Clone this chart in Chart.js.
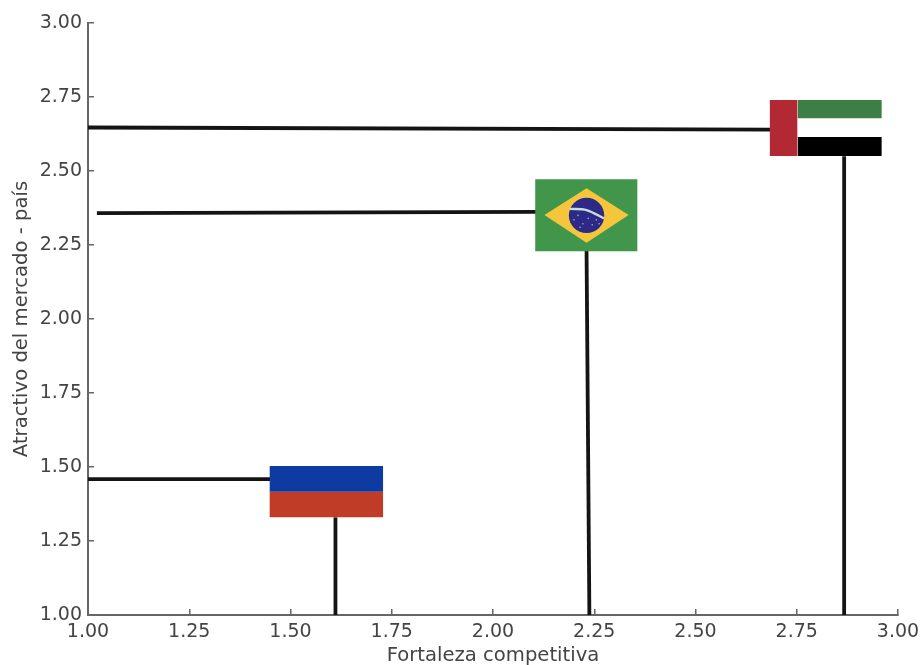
<!DOCTYPE html>
<html lang="es">
<head>
<meta charset="utf-8">
<title>Atractivo del mercado</title>
<script src="https://cdn.jsdelivr.net/npm/chart.js@4"></script>
<style>
  html, body { margin: 0; padding: 0; background: #ffffff; }
  #wrap { width: 922px; height: 665px; position: relative; }
</style>
</head>
<body>
<div id="wrap"><canvas id="chart"></canvas></div>
<script>
const xTitle = 'Fortaleza competitiva';
const yTitle = 'Atractivo del mercado - país';

// guide lines, in axis units
const russiaH = [{x: 1.00, y: 1.459}, {x: 1.45, y: 1.459}];
const russiaV = [{x: 1.611, y: 1.00}, {x: 1.611, y: 1.33}];
const brazilH = [{x: 1.022, y: 2.358}, {x: 2.11, y: 2.362}];
const brazilV = [{x: 2.238, y: 1.00}, {x: 2.231, y: 2.23}];
const uaeH = [{x: 1.00, y: 2.647}, {x: 2.69, y: 2.640}];
const uaeV = [{x: 2.867, y: 1.00}, {x: 2.867, y: 2.55}];

// flag pieces: [xStart, xEnd, yTop, yBottom]
const russiaBlue = [1.448, 1.729, 1.503, 1.416];
const russiaRed = [1.448, 1.729, 1.416, 1.330];
const uaeRed = [2.683, 2.752, 2.740, 2.551];
const uaeGreen = [2.752, 2.960, 2.740, 2.678];
const uaeBlack = [2.752, 2.960, 2.615, 2.551];
const brazilGreen = [2.104, 2.357, 2.472, 2.229];

// brazil flag details
const diamondMiddle = 2.3514;
const diamondTop = [{x: 2.127, y: diamondMiddle}, {x: 2.231, y: 2.442}, {x: 2.335, y: diamondMiddle}];
const diamondBottom = [{x: 2.127, y: diamondMiddle}, {x: 2.231, y: 2.258}, {x: 2.335, y: diamondMiddle}];
const globe = [{x: 2.231, y: 2.350}];
const band = [{x: 2.189, y: 2.372}, {x: 2.231, y: 2.368}, {x: 2.274, y: 2.340}];
const stars = [
  {x: 2.200, y: 2.335}, {x: 2.210, y: 2.350}, {x: 2.222, y: 2.322}, {x: 2.235, y: 2.340},
  {x: 2.245, y: 2.318}, {x: 2.255, y: 2.335}, {x: 2.262, y: 2.322}, {x: 2.215, y: 2.310}
];

function line(data) {
  return {
    data: data, showLine: true, pointRadius: 0,
    borderColor: '#141414', borderWidth: 3.8, order: 10
  };
}

function block(piece, color) {
  return {
    data: [{x: piece[0], y: piece[2]}, {x: piece[1], y: piece[2]}],
    showLine: true, pointRadius: 0, borderWidth: 0,
    backgroundColor: color, fill: {value: piece[3]}, order: 5
  };
}

function diamond(data) {
  return {
    data: data, showLine: true, pointRadius: 0, borderWidth: 0,
    backgroundColor: '#f5c63c', fill: {value: diamondMiddle}, order: 4
  };
}

const datasets = [
  line(russiaH), line(russiaV), line(brazilH), line(brazilV), line(uaeH), line(uaeV),
  block(russiaBlue, '#0e3ba2'),
  block(russiaRed, '#c13c27'),
  block(uaeRed, '#b22833'),
  block(uaeGreen, '#3b7f45'),
  block(uaeBlack, '#000000'),
  block(brazilGreen, '#41964b'),
  diamond(diamondTop),
  diamond(diamondBottom),
  {data: globe, pointRadius: 17.7, pointBackgroundColor: '#2c2a86', pointBorderWidth: 0, order: 3},
  {data: band, showLine: true, tension: 0.3, pointRadius: 0, borderColor: '#c9dcd8', borderWidth: 2.4, order: 2},
  {data: stars, pointRadius: 0.8, pointBackgroundColor: '#a9a8d6', pointBorderWidth: 0, order: 1}
];

const textColor = '#444444';
const font = {family: '"DejaVu Sans", sans-serif', size: 19};
const titleFont = {family: font.family, size: 19.6};

new Chart(document.getElementById('chart'), {
  type: 'scatter',
  data: {datasets: datasets},
  options: {
    responsive: true,
    maintainAspectRatio: false,
    animation: false,
    layout: {padding: {top: 23, right: 24, left: 0, bottom: 0}},
    plugins: {legend: {display: false}, tooltip: {enabled: false}},
    scales: {
      x: {
        min: 1, max: 3,
        afterFit: scale => { scale.height = 50; scale.paddingLeft = 0; scale.paddingRight = 0; },
        border: {color: '#666666', width: 2},
        grid: {drawOnChartArea: false, drawTicks: true, tickLength: -6, color: '#666666', lineWidth: 1.5},
        ticks: {stepSize: 0.25, color: textColor, font: font, padding: 12, maxRotation: 0,
          callback: v => v.toFixed(2)},
        title: {display: true, text: xTitle, color: textColor, font: titleFont, padding: {top: 0, bottom: -3}}
      },
      y: {
        min: 1, max: 3,
        afterFit: scale => { scale.width = 88; scale.paddingTop = 0; scale.paddingBottom = 0; },
        border: {color: '#666666', width: 2},
        grid: {drawOnChartArea: false, drawTicks: true, tickLength: -6, color: '#666666', lineWidth: 1.5},
        ticks: {stepSize: 0.25, color: textColor, font: font, padding: 12,
          callback: v => v.toFixed(2)},
        title: {display: true, text: yTitle, color: textColor, font: titleFont, padding: {top: 10, bottom: 0}}
      }
    }
  }
});
</script>
</body>
</html>
